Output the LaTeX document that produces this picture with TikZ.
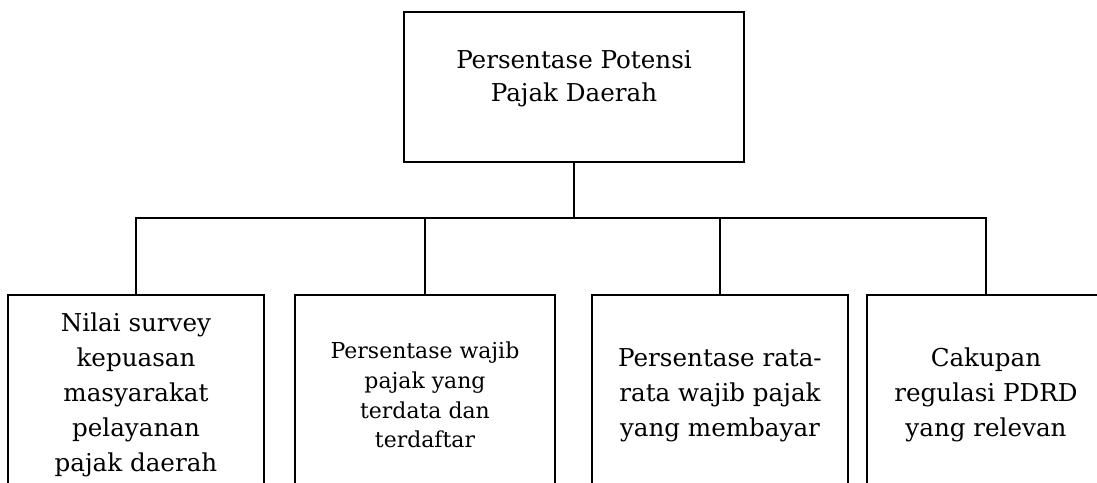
\documentclass[tikz,border=0pt]{standalone}
\usepackage{fontspec}
\setmainfont{DejaVu Serif}
\usetikzlibrary{positioning}

\begin{document}
\begin{tikzpicture}[
    box/.style={rectangle, draw, line width=1.1pt, align=center, minimum height=4cm, anchor=north, font=\fontsize{14}{20}\selectfont},
    line/.style={line width=1.1pt}
]
\clip (0,0) rectangle (21.94,9.64);
\node[box, minimum width=6.8cm, minimum height=3cm, anchor=center, text depth=0.45cm, font=\fontsize{14}{19}\selectfont] (potensi) at (11.48,7.9) {Persentase Potensi\\Pajak Daerah};
\coordinate[below=1.1cm of potensi.south] (hub);

\node[box, minimum width=5.12cm] (survey) at (2.72,3.76) {Nilai survey\\kepuasan\\masyarakat\\pelayanan\\pajak daerah};
\node[box, minimum width=5.2cm, font=\fontsize{12.5}{17}\selectfont] (terdata) at (8.5,3.76) {Persentase wajib\\pajak yang\\terdata dan\\terdaftar};
\node[box, minimum width=5.12cm] (membayar) at (14.4,3.76) {Persentase rata-\\rata wajib pajak\\yang membayar};
\node[box, minimum width=4.76cm] (regulasi) at (19.72,3.76) {Cakupan\\regulasi PDRD\\yang relevan};

\draw[line] (potensi) -- (hub);
\draw[line] (survey.north) |- (hub);
\draw[line] (terdata.north) |- (hub);
\draw[line] (membayar.north) |- (hub);
\draw[line] (regulasi.north) |- (hub);
\end{tikzpicture}
\end{document}
